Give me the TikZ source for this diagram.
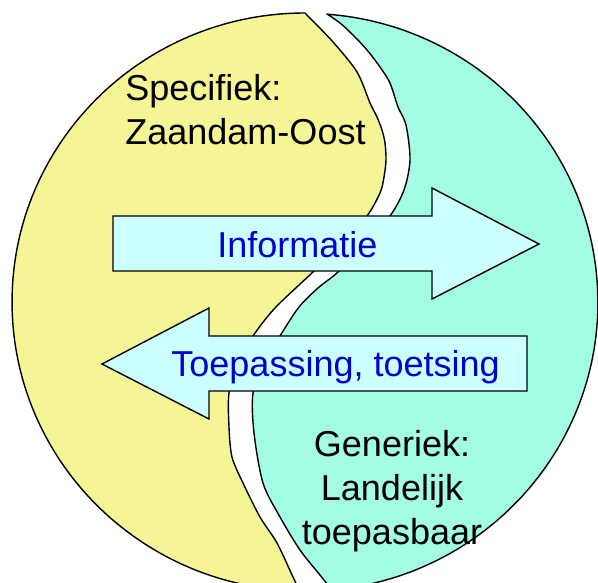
\documentclass[tikz,border=0pt]{standalone}
\usepackage{fontspec}
\setmainfont{Liberation Sans}
\definecolor{specyellow}{RGB}{245,245,150}
\definecolor{genmint}{RGB}{163,252,228}
\definecolor{arrowcyan}{RGB}{204,255,255}
\definecolor{labelblue}{RGB}{0,0,204}
\begin{document}
\begin{tikzpicture}[
        x=0.02cm, y=-0.02cm,
        half/.style={draw=black, line width=0.8pt, line join=round},
        yelhalf/.style={half, fill=specyellow},
        minthalf/.style={half, fill=genmint},
        blockarrow/.style={draw=black, line width=0.8pt, fill=arrowcyan, line join=miter},
        txt/.style={inner sep=0pt, font=\fontsize{20.5}{25}\selectfont},
        arrowtxt/.style={txt, text=labelblue}
    ]
        \useasboundingbox (0,0) rectangle (598,582);
        \clip (0,0) rectangle (598,582);

        \path[yelhalf] (305,13) arc[start angle=90, end angle=269, x radius=5.86cm, y radius=5.78cm]
            -- plot[smooth] coordinates {(300,591) (293,577) (277,543) (260,517) (243,483) (232,457) (229,427) (229,393) (238,362) (253,336) (275,308) (313,272) (342,244) (367,216) (380,193) (384,177) (386,160) (385,143) (382,130) (377,117) (370,103) (357,72) (333,42) (305,13)}
            -- cycle;
        \path[minthalf] (332,590) arc[start angle=-84.7, end angle=85.7, x radius=5.86cm, y radius=5.78cm]
            -- plot[smooth] coordinates {(327,14) (340,23) (353,35) (367,50) (380,67) (390,83) (398,107) (406,125) (410,160) (404,190) (390,216) (365,244) (338,272) (318,288) (299,307) (280,336) (265,362) (253,393) (254,433) (263,483) (280,517) (300,550) (320,575) (332,590)}
            -- cycle;

        \draw[blockarrow] (113,216) -- (432,216) -- (432,188) -- (539,244) -- (432,299) -- (432,271) -- (113,271) -- cycle;
        \draw[blockarrow] (527,336) -- (209,336) -- (209,308) -- (102,364) -- (209,419) -- (209,391) -- (527,391) -- cycle;

        \node[txt, align=left, anchor=base west] (spec) at (125,144) {Specifiek:\\Zaandam-Oost};
        \node[arrowtxt, anchor=base west] (info) at (217,257) {Informatie};
        \node[arrowtxt, anchor=base west] (toets) at (171,376) {Toepassing, toetsing};
        \node[txt, align=center, anchor=base] (gen) at (392,544) {Generiek:\\Landelijk\\toepasbaar};
\end{tikzpicture}
\end{document}
